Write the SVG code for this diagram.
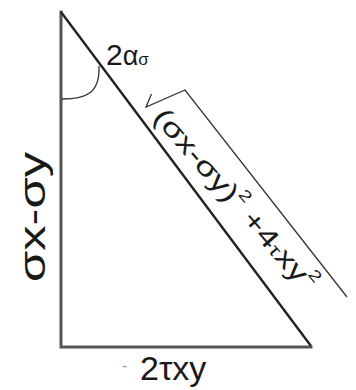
<svg xmlns="http://www.w3.org/2000/svg" width="356" height="390" viewBox="0 0 356 390">
<style>
text{font-family:"Liberation Sans",Arial,"DejaVu Sans",sans-serif;fill:#1a1a1a}
.leg{stroke:#555;stroke-width:3;fill:none;stroke-linecap:square}
.hyp{stroke:#222;stroke-width:2.4;fill:none}
.thin{stroke:#333;stroke-width:1.3;fill:none}
</style>
<rect width="356" height="390" fill="#fff"/>
<g id="triangle">
<path class="leg" d="M61,12 L61,347 L311,347"/>
<path class="hyp" d="M61,12 L311,346"/>
</g>
<g id="angle-arc">
<path class="thin" d="M62,99 C88,99 100,92 99,66"/>
</g>
<g id="labels">
<text x="106" y="65" font-size="30">2<tspan font-size="27">α</tspan><tspan font-size="17">σ</tspan></text>
<text transform="translate(45,282) rotate(-90)" x="0" y="0" font-size="37" textLength="130" lengthAdjust="spacingAndGlyphs">σx-σy</text>
<text x="122" y="371" font-size="16" style="fill:#999">-</text>
<text x="140" y="380" font-size="34">2τxy</text>
<path class="thin" d="M151.5,94 L146,107 L185,90 L347,297"/>
<text transform="translate(152,118) rotate(49)" x="0" y="0" font-size="27" textLength="232" lengthAdjust="spacingAndGlyphs">(σx-σy)<tspan font-size="16" dy="-14">2</tspan><tspan dy="14"> +4</tspan><tspan font-size="18">τ</tspan>xy<tspan font-size="16" dy="-14">2</tspan></text>
</g>
</svg>
